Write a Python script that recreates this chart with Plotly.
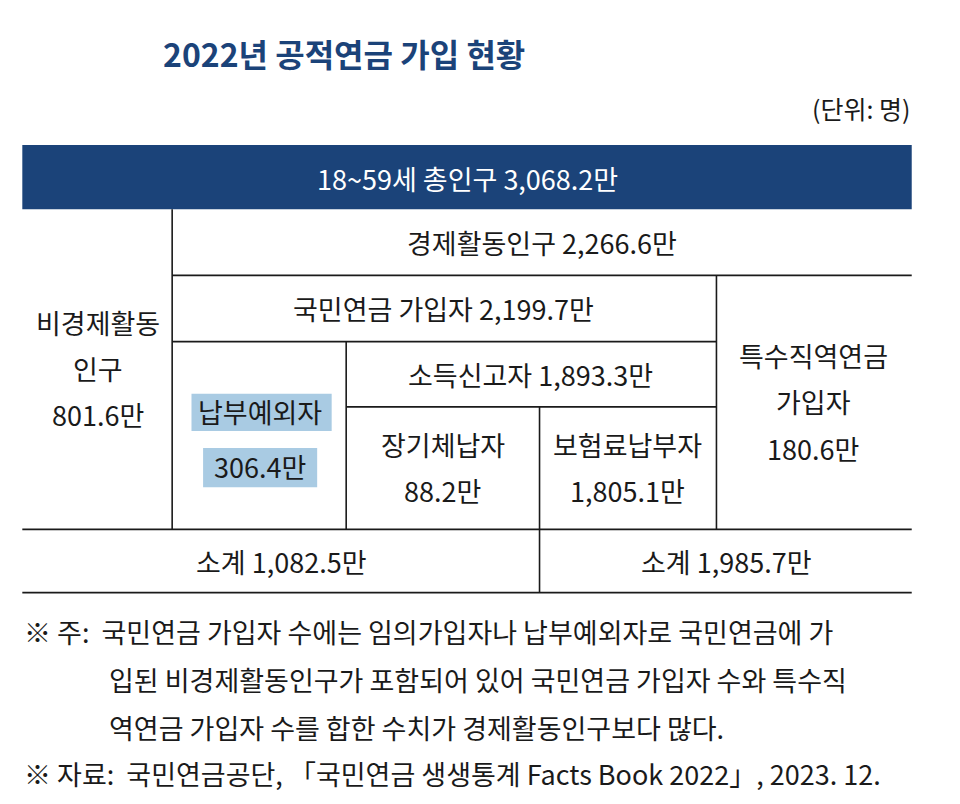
import plotly.graph_objects as go

# data (만 명)
total_pop = 3068.2
econ_active = 2266.6
non_econ = 801.6
nps_members = 2199.7
special_pension = 180.6
exempt = 306.4
reporters = 1893.3
long_arrears = 88.2
payers = 1805.1
subtotal_left = 1082.5
subtotal_right = 1985.7

notes = [
    "※ 주:  국민연금 가입자 수에는 임의가입자나 납부예외자로 국민연금에 가",
    "입된 비경제활동인구가 포함되어 있어 국민연금 가입자 수와 특수직",
    "역연금 가입자 수를 합한 수치가 경제활동인구보다 많다.",
    "※ 자료:  국민연금공단, 「국민연금 생생통계 Facts Book 2022」, 2023. 12.",
]

FONT = "Noto Sans CJK KR"
NAVY = "#1b4379"
INK = "#1a1a1a"


def fmt(v):
    return f"{v:,.1f}만"


fig = go.Figure()
fig.update_xaxes(range=[7.2, 1000.2], visible=False, fixedrange=True)
fig.update_yaxes(range=[811.6, 10.6], visible=False, fixedrange=True)

shapes = [dict(type="rect", x0=22, x1=942, y0=147, y1=211, fillcolor=NAVY, line_width=0, layer="below")]
# highlight behind 납부예외자
shapes.append(dict(type="rect", x0=197, x1=342, y0=395, y1=432, fillcolor="#a9cbe3", line_width=0, layer="below"))
shapes.append(dict(type="rect", x0=209, x1=327, y0=449, y1=488, fillcolor="#a9cbe3", line_width=0, layer="below"))

lines = [
    (177, 277, 942, 277), (177, 343, 740, 343), (357, 408, 740, 408),
    (22, 530, 942, 530), (22, 593, 942, 593),
    (177, 211, 177, 530), (740, 277, 740, 530), (357, 343, 357, 530),
    (557, 408, 557, 593),
]
for x0, y0, x1, y1 in lines:
    shapes.append(dict(type="line", x0=x0, y0=y0, x1=x1, y1=y1, line=dict(color=INK, width=1.6)))
fig.update_layout(shapes=shapes)


def txt(x, y, s, size=27, color=INK, anchor="center", bold=False):
    if bold:
        s = f"<b>{s}</b>"
    fig.add_annotation(x=x, y=y, text=s, showarrow=False, xanchor=anchor, yanchor="middle",
                       font=dict(family=FONT, size=size, color=color))


def cell(x, y, rows, gap=46):
    y0 = y - gap * (len(rows) - 1) / 2
    for i, r in enumerate(rows):
        txt(x, y0 + i * gap, r)


txt(355, 55, "2022년 공적연금 가입 현황", size=32, color=NAVY, bold=True)
txt(942, 110, "(단위: 명)", size=25, anchor="right")
txt(482, 180, f"18~59세 총인구 {total_pop:,.1f}만", size=27, color="white")
txt(560, 244, f"경제활동인구 {fmt(econ_active)}")
txt(458, 310, f"국민연금 가입자 {fmt(nps_members)}")
txt(548, 376, f"소득신고자 {fmt(reporters)}")
cell(100, 370, ["비경제활동", "인구", fmt(non_econ)])
cell(840, 403, ["특수직역연금", "가입자", fmt(special_pension)])
cell(268, 440, ["납부예외자", fmt(exempt)], gap=54)
cell(457, 468, ["장기체납자", fmt(long_arrears)])
cell(648, 468, ["보험료납부자", fmt(payers)])
txt(290, 562, f"소계 {fmt(subtotal_left)}")
txt(750, 562, f"소계 {fmt(subtotal_right)}")

note_x = [22, 110, 110, 22]
note_y = [632, 680, 727, 773]
for s, x, y in zip(notes, note_x, note_y):
    txt(x, y, s, size=27, anchor="left")

fig.update_layout(width=960, height=804, margin=dict(l=0, r=0, t=0, b=0),
                  plot_bgcolor="white", paper_bgcolor="white", showlegend=False)
fig.write_html("out.html", config={"displayModeBar": False})
